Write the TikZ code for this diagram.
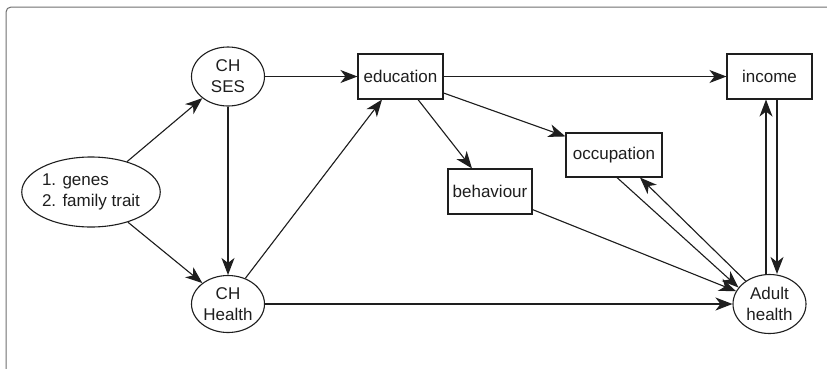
\documentclass[tikz,border=0pt]{standalone}
\usepackage{fontspec}
\setmainfont{Liberation Sans}
\usetikzlibrary{shapes.geometric,arrows.meta}
\definecolor{ink}{HTML}{1E1E1E}
\definecolor{framegrey}{HTML}{707070}
\begin{document}
\begin{tikzpicture}[x=1pt,y=-1pt,
  >={Stealth[length=17pt,width=13pt,inset=5pt]},
  every node/.style={font=\fontsize{17}{21}\selectfont, text=ink, inner sep=0pt},
  oval/.style={ellipse, draw=ink, line width=1.1pt, fill=white, align=center},
  box/.style={rectangle, draw=ink, line width=1.1pt, fill=white, minimum height=45pt},
  arr/.style={draw=ink, fill=ink, line width=1.1pt, ->}
]
\useasboundingbox (0,0) rectangle (827,368);
\fill[white] (0,0) rectangle (827,368);
\draw[framegrey, line width=1pt, rounded corners=5pt] (6,7) rectangle (840,380);

% nodes
\node[oval, minimum width=128pt, minimum height=70pt, align=left] (genes) at (91,192) {1. genes\\2. family trait};
\node[oval, minimum width=73pt, minimum height=59pt] (ses) at (228,76.5) {CH\\SES};
\node[oval, minimum width=73pt, minimum height=57pt] (health) at (228,304) {CH\\Health};
\node[box, minimum width=85pt] (education) at (400.5,76.5) {education};
\node[box, minimum width=85pt] (income) at (769.5,76.5) {income};
\node[box, minimum width=96pt, minimum height=44pt] (occupation) at (614,155) {occupation};
\node[box, minimum width=84pt] (behaviour) at (490,191.5) {behaviour};
\node[oval, minimum width=73pt, minimum height=59pt] (adult) at (769.5,304) {Adult\\health};

% connectors
\draw[arr] (genes) -- (ses);
\draw[arr] (genes) -- (health);
\draw[arr] (ses) -- (health);
\draw[arr] (ses) -- (education);
\draw[arr] (health.56) -- ([xshift=-18.5pt]education.south);
\draw[arr] (education) -- (income);
\draw[arr] ([xshift=17.5pt]education.south) -- ([xshift=-18pt]behaviour.north);
\draw[arr] ([yshift=-16.5pt]education.east) -- ([yshift=-4pt]occupation.north west);
\draw[arr] (behaviour.-23) -- (adult.159);
\draw[arr] ([xshift=3pt]occupation.south) -- (adult.152);
\draw[arr] (adult.136) -- ([xshift=26pt]occupation.south);
\draw[arr] (health) -- (adult);
\draw[arr] ([xshift=-3.5pt]adult.north) -- ([xshift=-3.5pt]income.south);
\draw[arr] ([xshift=7.5pt]income.south) -- ([xshift=7.5pt]adult.north);
\end{tikzpicture}
\end{document}
